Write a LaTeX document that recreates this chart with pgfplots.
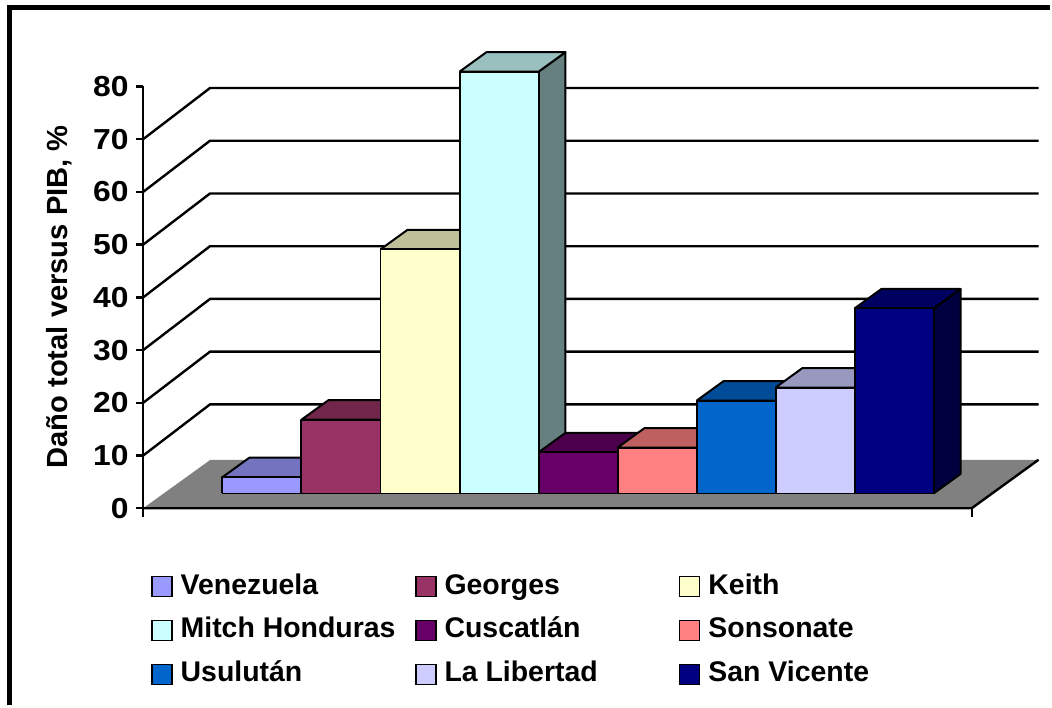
\documentclass[border=0pt]{standalone}
\usepackage{fontspec}
\setmainfont{Liberation Sans}
\newfontfamily\tickfamily[FakeStretch=1.1]{Liberation Sans}
\usepackage{pgfplots}
\pgfplotsset{compat=1.18}
\definecolor{c1}{HTML}{9999FF}
\definecolor{c2}{HTML}{993366}
\definecolor{c3}{HTML}{FFFFCC}
\definecolor{c4}{HTML}{CCFFFF}
\definecolor{c5}{HTML}{660066}
\definecolor{c6}{HTML}{FF8080}
\definecolor{c7}{HTML}{0066CC}
\definecolor{c8}{HTML}{CCCCFF}
\definecolor{c9}{HTML}{000080}
\definecolor{floorgray}{HTML}{808080}
\newcommand{\cf}{\bfseries\fontsize{14.25}{17}\selectfont}
\newcommand{\tf}{\tickfamily\bfseries\fontsize{14.5}{17}\selectfont}
\newcommand{\lf}{\bfseries\fontsize{14.6}{17}\selectfont}
\pgfplotsset{
  barface/.style={draw=black, line width=1pt, line join=round, forget plot, mark=none},
  gridl/.style={draw=black, line width=1.2pt, forget plot, mark=none},
  sq/.style={legend image code/.code={\draw[##1, draw=black, line width=0.75pt] (0pt,-5pt) rectangle (10pt,5pt);}},
}
% #1 index, #2 value, #3 colour
\newcommand{\drawbar}[3]{%
  \pgfmathsetmacro{\xa}{223+79.2*#1}%
  \pgfmathsetmacro{\xb}{\xa+79.2}%
  \pgfmathsetmacro{\xc}{\xa+27}%
  \pgfmathsetmacro{\xd}{\xb+27}%
  \pgfmathsetmacro{\vt}{2.8+#2}%
  \pgfmathsetmacro{\vtb}{\vt+3.7}%
  \edef\tmp{\noexpand\addplot[barface, fill=#3!50!black] coordinates {(\xb,2.8) (\xd,6.5) (\xd,\vtb) (\xb,\vt) (\xb,2.8)};}\tmp
  \edef\tmp{\noexpand\addplot[barface, fill=#3!75!black] coordinates {(\xa,\vt) (\xb,\vt) (\xd,\vtb) (\xc,\vtb) (\xa,\vt)};}\tmp
  \edef\tmp{\noexpand\addplot[barface, fill=#3] coordinates {(\xa,2.8) (\xb,2.8) (\xb,\vt) (\xa,\vt) (\xa,2.8)};}\tmp
}
\begin{document}
\begin{tikzpicture}
\begin{axis}[
  x=0.5pt, y=2.6425pt,
  xmin=143.5, xmax=1041, ymin=-1.6, ymax=80,
  axis y line*=left, axis x line=none,
  axis on top=true,
  clip=false,
  ytick={0,10,20,30,40,50,60,70,80},
  tick align=outside, major tick length=3.75pt,
  axis line style={line width=1.2pt, black},
  major tick style={line width=1.2pt, black},
  /pgf/number format/assume math mode=true,
  yticklabel style={font=\tf},
  ylabel={Daño total versus PIB, \%},
  ylabel style={font=\lf, at={(axis description cs:-0.0841,0.511)}, anchor=base},
  legend columns=3,
  legend cell align=left,
  legend style={draw=none, fill=none, at={(axis cs:151.6,-12.3)}, anchor=north west,
    column sep=4pt, row sep=8.5pt, inner sep=0pt, outer sep=0pt,
    nodes={inner sep=0pt, text height=10.5pt, text depth=3pt, font=\cf}},
]
% background and frame
\addplot[fill=white, draw=none, forget plot] coordinates {(0,96.4) (1052,96.4) (1052,-37.37) (0,-37.37) (0,96.4)};
\addplot[draw=black, line width=2.5pt, line join=miter, forget plot] coordinates {(10,-37.37) (10,94.99) (1052,94.99)};
% floor
\addplot[fill=floorgray, draw=none, forget plot] coordinates {(143.5,0) (974,0) (1041,9.2) (211,9.2) (143.5,0)};
\addplot[gridl] coordinates {(143.5,0) (974,0) (1041,9.2)};
\addplot[gridl] coordinates {(974,0) (974,-1.6)};
% wall gridlines
\addplot[gridl] coordinates {(143.5,10) (210.5,19.7) (1041,19.7)};
\addplot[gridl] coordinates {(143.5,20) (210.5,29.7) (1041,29.7)};
\addplot[gridl] coordinates {(143.5,30) (210.5,39.7) (1041,39.7)};
\addplot[gridl] coordinates {(143.5,40) (210.5,49.7) (1041,49.7)};
\addplot[gridl] coordinates {(143.5,50) (210.5,59.7) (1041,59.7)};
\addplot[gridl] coordinates {(143.5,60) (210.5,69.7) (1041,69.7)};
\addplot[gridl] coordinates {(143.5,70) (210.5,79.7) (1041,79.7)};
% bars
\drawbar{0}{3.1}{c1}
\drawbar{1}{14.0}{c2}
\drawbar{2}{46.3}{c3}
\drawbar{3}{80.0}{c4}
\drawbar{4}{7.8}{c5}
\drawbar{5}{8.7}{c6}
\drawbar{6}{17.6}{c7}
\drawbar{7}{20.1}{c8}
\drawbar{8}{35.1}{c9}
% legend
\addlegendimage{sq, fill=c1}\addlegendentry{\makebox[113.5pt][l]{Venezuela}}
\addlegendimage{sq, fill=c2}\addlegendentry{\makebox[113.5pt][l]{Georges}}
\addlegendimage{sq, fill=c3}\addlegendentry{\makebox[113.5pt][l]{Keith}}
\addlegendimage{sq, fill=c4}\addlegendentry{\makebox[113.5pt][l]{Mitch Honduras}}
\addlegendimage{sq, fill=c5}\addlegendentry{\makebox[113.5pt][l]{Cuscatlán}}
\addlegendimage{sq, fill=c6}\addlegendentry{\makebox[113.5pt][l]{Sonsonate}}
\addlegendimage{sq, fill=c7}\addlegendentry{\makebox[113.5pt][l]{Usulután}}
\addlegendimage{sq, fill=c8}\addlegendentry{\makebox[113.5pt][l]{La Libertad}}
\addlegendimage{sq, fill=c9}\addlegendentry{\makebox[113.5pt][l]{San Vicente}}
\end{axis}
\end{tikzpicture}
\end{document}
